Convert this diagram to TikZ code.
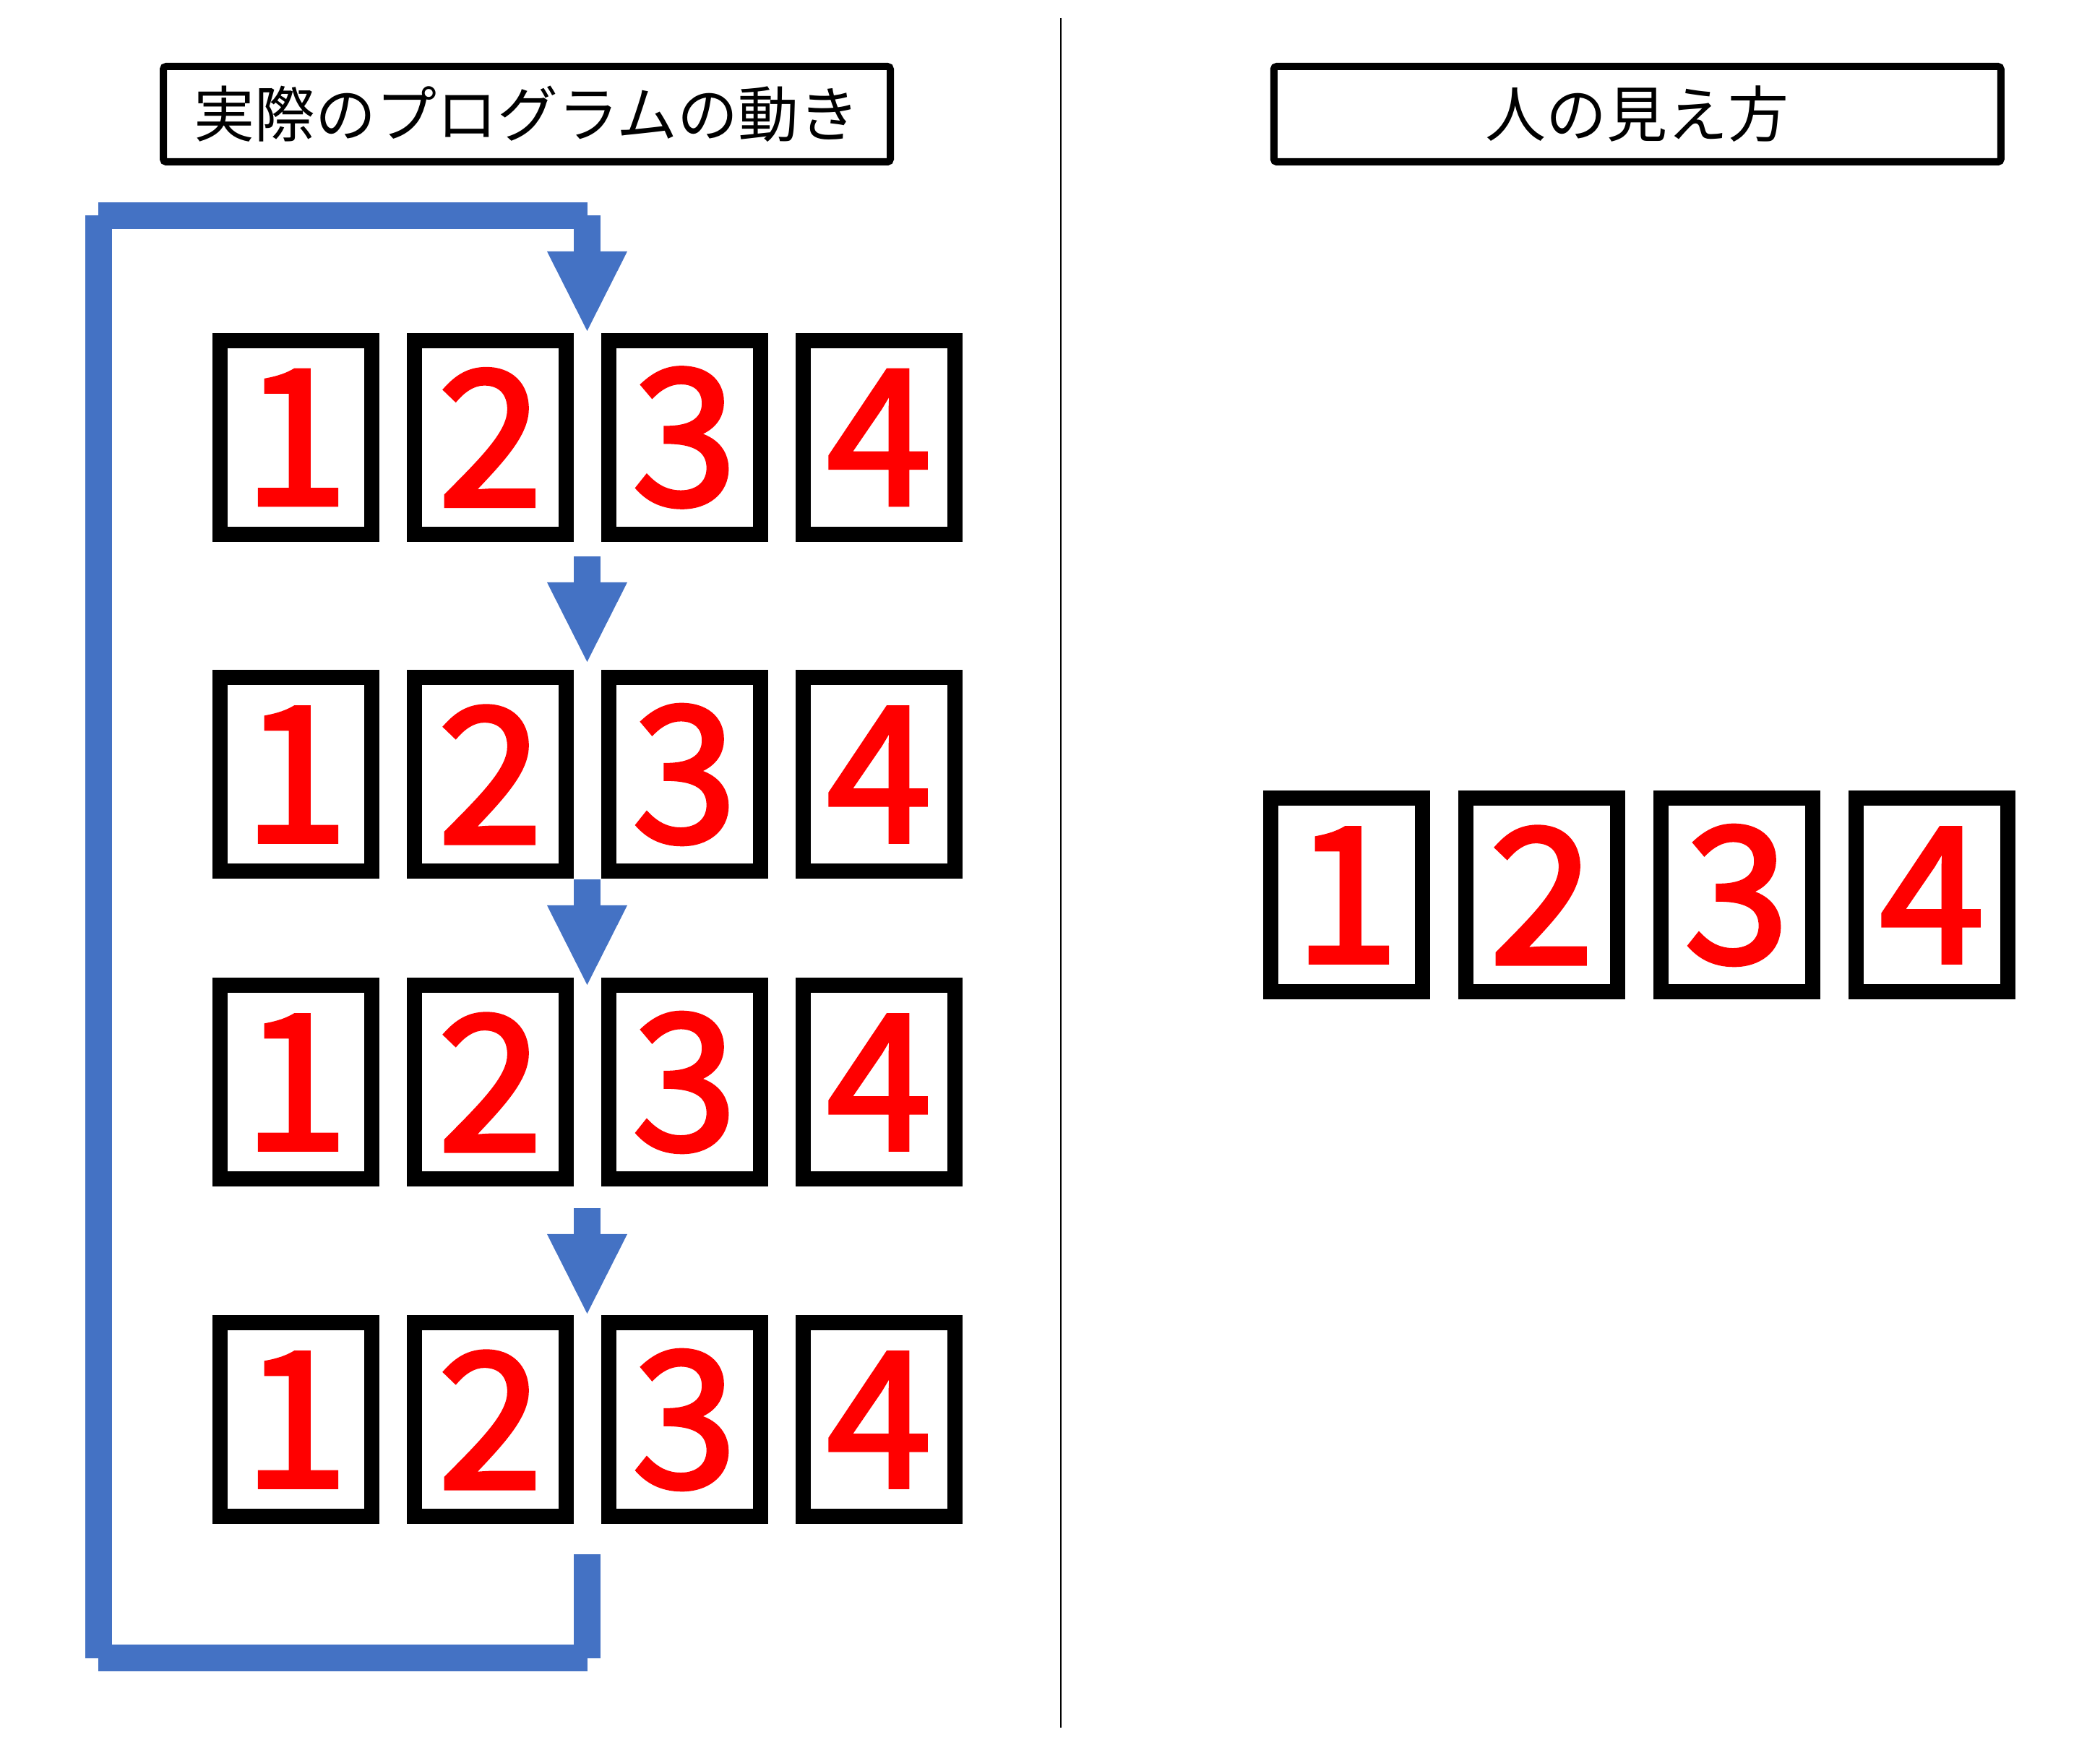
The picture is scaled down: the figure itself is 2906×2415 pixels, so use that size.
\documentclass[tikz,border=0pt]{standalone}
\usepackage{fontspec}
\newfontfamily\jp{Noto Sans CJK JP}
\newfontfamily\jpdigit{Noto Sans CJK JP}[FakeBold=2.5]
\usetikzlibrary{arrows.meta}
\definecolor{pptblue}{HTML}{4472C4}
\begin{document}
\begin{tikzpicture}[x=0.25pt,y=-0.25pt,
  numbox/.style={draw=black, line width=5.25pt, minimum width=52.5pt, minimum height=67pt,
    inner sep=0pt, outer sep=0pt, fill=white, text=red,
    font=\jpdigit\fontsize{65pt}{65pt}\selectfont},
  titlebox/.style={draw=black, line width=2.5pt, rounded corners=1pt, minimum width=251.5pt,
    minimum height=33pt, inner sep=0pt, font=\jp\fontsize{21pt}{21pt}\selectfont},
  loopline/.style={draw=pptblue, line width=9.125pt, line cap=butt},
  flow/.style={draw=pptblue, line width=9.125pt, line cap=butt,
    -{Triangle[length=27.5pt,width=27.75pt,line width=0pt]}},
  divider/.style={draw=black, line width=0.5pt}
]
\useasboundingbox (0,0) rectangle (2906,2415);

% titles
\node[titlebox] (t1) at (729,158) {実際のプログラムの動き};
\node[titlebox] (t2) at (2265.75,158) {人の見え方};

% divider
\coordinate (dtop) at (1468,25);
\coordinate (dbot) at (1468,2391);
\draw[divider] (dtop) -- (dbot);

% left grid of boxes
\foreach \r/\y in {1/605.5,2/1072,3/1498,4/1965}{
  \foreach \c in {1,...,4}{
    \node[numbox] (b\r\c) at ({409.5+269*(\c-1)},\y) {\c};
  }
}

% right row of boxes
\foreach \c in {1,...,4}{
  \node[numbox] (v\c) at ({1863.5+270*(\c-1)},1239) {\c};
}

% arrows between rows
\coordinate (a1s) at (812.5,770);  \coordinate (a1e) at (812.5,916);
\coordinate (a2s) at (812.5,1217); \coordinate (a2e) at (812.5,1363);
\coordinate (a3s) at (812.5,1672); \coordinate (a3e) at (812.5,1818);
\draw[flow] (a1s) -- (a1e);
\draw[flow] (a2s) -- (a2e);
\draw[flow] (a3s) -- (a3e);

% loop back
\coordinate (ls)  at (812.5,2151);
\coordinate (lbr) at (812.5,2294.5);
\coordinate (lbl) at (136.3,2294.5);
\coordinate (ltl) at (136.3,298.5);
\coordinate (ltr) at (812.5,298.5);
\coordinate (lend) at (812.5,458);
\draw[loopline] (ls) -- (lbr);
\draw[loopline] (lbr) -- (lbl);
\draw[loopline] (lbl) -- (ltl);
\draw[loopline] (ltl) -- (ltr);
\draw[flow] (ltr) -- (lend);
\end{tikzpicture}
\end{document}
